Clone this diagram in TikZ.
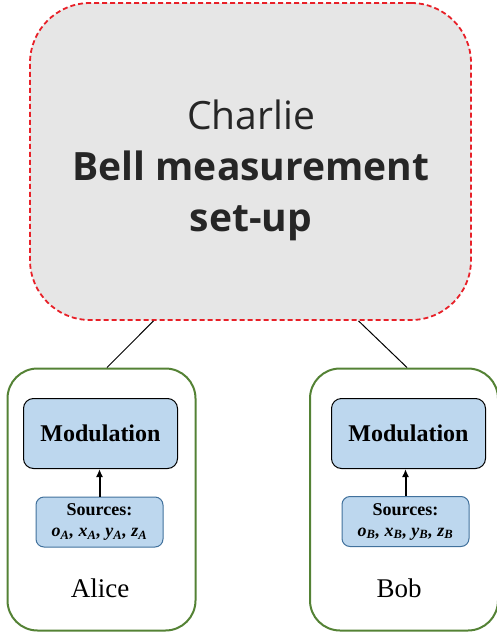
\documentclass[tikz,border=0pt]{standalone}
\usepackage{fontspec}
\setmainfont{Liberation Serif}
\newfontfamily\charliefont{Open Sans}
\usetikzlibrary{calc,arrows.meta}
\definecolor{charliegray}{RGB}{230,230,230}
\definecolor{charliered}{RGB}{232,32,40}
\definecolor{partygreen}{RGB}{84,130,53}
\definecolor{modblue}{RGB}{189,215,238}
\definecolor{srcborder}{RGB}{65,113,156}
\definecolor{textdark}{RGB}{38,38,38}
\tikzset{
	party/.style={draw=partygreen, line width=2pt, rounded corners=30pt, minimum width=188pt, minimum height=262pt},
	modbox/.style={draw=black, fill=modblue, line width=1pt, rounded corners=10pt, minimum width=154pt, minimum height=70pt, font=\fontsize{24}{28}\selectfont\bfseries},
	srcbox/.style={draw=srcborder, fill=modblue, line width=1pt, rounded corners=8pt, minimum width=127pt, minimum height=50pt, align=center, inner sep=1pt, font=\fontsize{18}{21}\selectfont\bfseries},
	uparrow/.style={line width=2pt, -{Latex[length=8pt, width=7pt]}},
}
\begin{document}
\begin{tikzpicture}[x=1pt, y=-1pt]
		%%%%% START %%%%%
		\useasboundingbox (0, 0) rectangle (497, 637);
		
		\node[draw=charliered, dashed, dash pattern=on 5pt off 3pt, line width=1.8pt, fill=charliegray, rounded corners=60pt, minimum width=441pt, minimum height=317pt] (charlie) at (250.5, 161.5) {};
		\node[align=center, text=textdark, font=\charliefont\fontsize{39}{51}\selectfont] (charlieText) at (251, 170) {Charlie\\ {\bfseries Bell measurement}\\ {\bfseries set-up}};
		
		\node[party] (alice) at (101.5, 499.5) {};
		\node[party] (bob) at (404, 499.5) {};
		
		\node[modbox] (modA) at (100.5, 433.5) {Modulation};
		\node[srcbox] (srcA) at (99.5, 522) {Sources:\\ \itshape o\textsubscript{A}, x\textsubscript{A}, y\textsubscript{A}, z\textsubscript{A}};
		\node[font=\fontsize{27}{30}\selectfont] (aliceName) at (100, 588) {Alice};
		
		\node[modbox] (modB) at (408.5, 433.5) {Modulation};
		\node[srcbox] (srcB) at (405.5, 521.5) {Sources:\\ \itshape o\textsubscript{B}, x\textsubscript{B}, y\textsubscript{B}, z\textsubscript{B}};
		\node[font=\fontsize{27}{30}\selectfont] (bobName) at (399, 588) {Bob};
		
		\draw[uparrow] (srcA.north) -- (srcA.north |- modA.south);
		\draw[uparrow] (srcB.north) -- (srcB.north |- modB.south);
		
		\draw[line width=1pt] ($(charlie.south west)!0.281!(charlie.south east)$) -- ($(alice.north)+(5.5, 0)$);
		\draw[line width=1pt] ($(charlie.south west)!0.744!(charlie.south east)$) -- ($(bob.north)+(3, 0)$);
		%%%%% END %%%%%
	\end{tikzpicture}
\end{document}
